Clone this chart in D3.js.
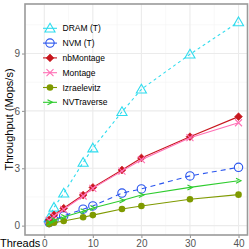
<!DOCTYPE html>
<html>
<head>
<meta charset="utf-8">
<script src="https://cdn.jsdelivr.net/npm/d3@7"></script>
<style>
  body { margin: 0; background: #fff; }
  svg { display: block; font-family: "Liberation Sans", Arial, sans-serif; }
</style>
</head>
<body>
<div id="chart"></div>
<script>
// data
var threads = [1, 2, 4, 8, 10, 16, 20, 30, 40];
var dram        = [0.40, 0.95, 1.69, 3.30, 4.05, 5.95, 7.13, 8.96, 10.65];
var nvm         = [0.16, 0.30, 0.51, 0.86, 1.03, 1.70, 1.92, 2.60, 3.05];
var nbMontage   = [0.30, 0.56, 0.91, 1.60, 2.00, 2.91, 3.54, 4.65, 5.70];
var montage     = [0.27, 0.50, 0.85, 1.55, 1.95, 2.85, 3.45, 4.60, 5.38];
var izraelevitz = [0.08, 0.15, 0.24, 0.44, 0.55, 0.87, 1.03, 1.38, 1.62];
var nvTraverse  = [0.15, 0.28, 0.45, 0.75, 0.92, 1.31, 1.60, 2.00, 2.35];
var seriesNames = ["DRAM (T)", "NVM (T)", "nbMontage", "Montage", "Izraelevitz", "NVTraverse"];
var xTicks = [0, 10, 20, 30, 40];
var yTicks = [0, 3, 6, 9];

var series = [
  {name: seriesNames[0], values: dram,        color: "#2fdcee", shape: "triangle", dash: "3,3"},
  {name: seriesNames[1], values: nvm,         color: "#2a55ee", shape: "circleOpen", dash: "5,4"},
  {name: seriesNames[2], values: nbMontage,   color: "#c8161d", shape: "diamond", dash: null},
  {name: seriesNames[3], values: montage,     color: "#ff6fb5", shape: "cross", dash: null},
  {name: seriesNames[4], values: izraelevitz, color: "#7f9a00", shape: "dot", dash: null},
  {name: seriesNames[5], values: nvTraverse,  color: "#2ecc2e", shape: "arrow", dash: null}
];

var W = 249, H = 249;
var pLeft = 25, pRight = 247.5, pTop = 4, pBottom = 235;

var svg = d3.select("#chart").append("svg")
  .attr("width", W).attr("height", H);

var x = d3.scaleLinear().domain([-3.97, 41.85]).range([pLeft, pRight]);
var y = d3.scaleLinear().domain([-0.49, 11.59]).range([pBottom, pTop]);

// grid
var minorX = [5, 15, 25, 35], minorY = [1.5, 4.5, 7.5, 10.5];
var grid = svg.append("g");
grid.selectAll(".mx").data(minorX).enter().append("line")
  .attr("x1", x).attr("x2", x).attr("y1", pTop).attr("y2", pBottom)
  .attr("stroke", "#f4f4f4").attr("stroke-width", 0.6);
grid.selectAll(".my").data(minorY).enter().append("line")
  .attr("y1", y).attr("y2", y).attr("x1", pLeft).attr("x2", pRight)
  .attr("stroke", "#f4f4f4").attr("stroke-width", 0.6);
grid.selectAll(".gx").data(xTicks).enter().append("line")
  .attr("x1", x).attr("x2", x).attr("y1", pTop).attr("y2", pBottom)
  .attr("stroke", "#ebebeb").attr("stroke-width", 1.1);
grid.selectAll(".gy").data(yTicks).enter().append("line")
  .attr("y1", y).attr("y2", y).attr("x1", pLeft).attr("x2", pRight)
  .attr("stroke", "#ebebeb").attr("stroke-width", 1.1);

// border
svg.append("rect")
  .attr("x", pLeft).attr("y", pTop)
  .attr("width", pRight - pLeft).attr("height", pBottom - pTop)
  .attr("fill", "none").attr("stroke", "#9a9a9a").attr("stroke-width", 1.6);

// axes
var xAxis = svg.append("g")
  .attr("transform", "translate(0," + pBottom + ")")
  .call(d3.axisBottom(x).tickValues(xTicks).tickSize(3).tickPadding(2));
var yAxis = svg.append("g")
  .attr("transform", "translate(" + pLeft + ",0)")
  .call(d3.axisLeft(y).tickValues(yTicks).tickSize(3).tickPadding(2));
[xAxis, yAxis].forEach(function (a) {
  a.select(".domain").remove();
  a.selectAll("line").attr("stroke", "#9a9a9a").attr("stroke-width", 1.1);
  a.selectAll("text").attr("fill", "#555").style("font-size", "10px")
    .style("font-family", "Liberation Sans, Arial, sans-serif");
});

svg.append("text")
  .attr("x", 0).attr("y", 247)
  .style("font-size", "11px").attr("fill", "#000")
  .text("Threads");

svg.append("text")
  .attr("transform", "translate(13," + ((pTop + pBottom) / 2) + ") rotate(-90)")
  .attr("text-anchor", "middle")
  .style("font-size", "11px").attr("fill", "#000")
  .text("Throughput (Mops/s)");

// markers
function drawMarker(g, s, cx, cy) {
  if (s.shape === "triangle") {
    g.append("path")
      .attr("d", d3.symbol(d3.symbolTriangle, 44)())
      .attr("transform", "translate(" + cx + "," + (cy + 0.8) + ")")
      .attr("fill", "none").attr("stroke", s.color).attr("stroke-width", 1.1);
  } else if (s.shape === "circleOpen") {
    g.append("circle").attr("cx", cx).attr("cy", cy).attr("r", 4.2)
      .attr("fill", "none").attr("stroke", s.color).attr("stroke-width", 1.1);
  } else if (s.shape === "diamond") {
    g.append("path")
      .attr("d", "M0,-3.9L3.9,0L0,3.9L-3.9,0Z")
      .attr("transform", "translate(" + cx + "," + cy + ")")
      .attr("fill", s.color).attr("stroke", s.color).attr("stroke-width", 0.6);
  } else if (s.shape === "cross") {
    g.append("path")
      .attr("d", "M-3.5,-3.5L3.5,3.5M-3.5,3.5L3.5,-3.5")
      .attr("transform", "translate(" + cx + "," + cy + ")")
      .attr("fill", "none").attr("stroke", s.color).attr("stroke-width", 1.1);
  } else if (s.shape === "dot") {
    g.append("circle").attr("cx", cx).attr("cy", cy).attr("r", 3.3)
      .attr("fill", s.color);
  } else if (s.shape === "arrow") {
    g.append("path")
      .attr("d", "M-2.5,-2.5L2.5,0L-2.5,2.5")
      .attr("transform", "translate(" + cx + "," + cy + ")")
      .attr("fill", "none").attr("stroke", s.color).attr("stroke-width", 1.1);
  }
}

var line = d3.line()
  .x(function (d) { return x(d[0]); })
  .y(function (d) { return y(d[1]); });

series.forEach(function (s) {
  var pts = threads.map(function (t, i) { return [t, s.values[i]]; });
  var g = svg.append("g");
  g.append("path").datum(pts)
    .attr("d", line)
    .attr("fill", "none").attr("stroke", s.color).attr("stroke-width", 1.1)
    .attr("stroke-dasharray", s.dash);
  pts.forEach(function (p) { drawMarker(g, s, x(p[0]), y(p[1])); });
});

// legend
var legend = svg.append("g");
series.forEach(function (s, i) {
  var ly = 28.3 + i * 14.8;
  var lg = legend.append("g");
  lg.append("line").attr("x1", 43).attr("x2", 57).attr("y1", ly).attr("y2", ly)
    .attr("stroke", s.color).attr("stroke-width", 1.1);
  drawMarker(lg, s, 50, ly);
  lg.append("text").attr("x", 62.5).attr("y", ly + 3)
    .style("font-size", "8.5px").attr("fill", "#000").text(s.name);
});
</script>
</body>
</html>
